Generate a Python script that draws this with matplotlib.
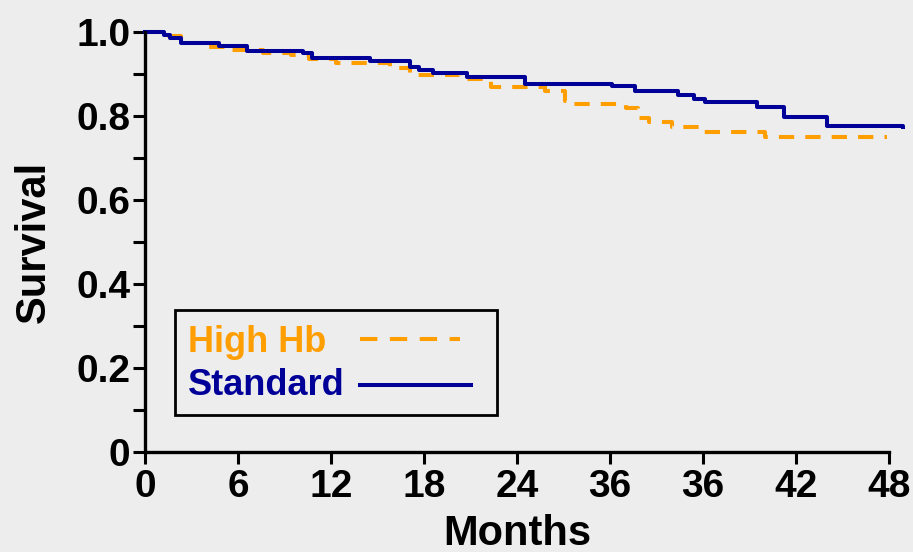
import matplotlib
matplotlib.use("Agg")
import matplotlib.pyplot as plt
from matplotlib.patches import Rectangle
from matplotlib.ticker import MultipleLocator, FixedLocator, FixedFormatter

# Kaplan-Meier steps (months, survival)
std_t = [0, 1.2, 1.6, 2.3, 4.8, 6.6, 10.2, 10.8, 14.5, 17.1, 17.7, 18.6, 20.8,
         24.5, 30.1, 31.6, 34.4, 35.4, 36.1, 39.5, 41.2, 44.0, 48.9]
std_s = [1.0, 0.993, 0.986, 0.974, 0.967, 0.955, 0.950, 0.938, 0.931, 0.917,
         0.910, 0.902, 0.893, 0.876, 0.871, 0.860, 0.850, 0.840, 0.833, 0.821,
         0.798, 0.776, 0.774]

hb_t = [0, 1.0, 2.3, 4.0, 5.5, 7.6, 9.4, 10.6, 12.3, 15.8, 17.1, 20.3, 22.3,
        25.8, 27.1, 27.7, 31.0, 31.8, 32.5, 34.0, 35.8, 40.0, 47.9]
hb_s = [1.0, 0.990, 0.975, 0.964, 0.958, 0.950, 0.945, 0.936, 0.926, 0.914,
        0.898, 0.888, 0.869, 0.860, 0.836, 0.829, 0.819, 0.795, 0.786, 0.774,
        0.762, 0.750, 0.750]

x_ticks = [0, 6, 12, 18, 24, 30, 36, 42, 48]
x_labels = ["0", "6", "12", "18", "24", "36", "36", "42", "48"]
y_ticks = [0, 0.2, 0.4, 0.6, 0.8, 1.0]
y_labels = ["0", "0.2", "0.4", "0.6", "0.8", "1.0"]

bg = "#ededed"
orange = "#ff9e00"
navy = "#000099"

plt.rcParams['font.family'] = ['Liberation Sans', 'DejaVu Sans']
plt.rcParams['font.weight'] = 'bold'
plt.rcParams['lines.scale_dashes'] = False

fig = plt.figure(figsize=(9.13, 5.52), dpi=100, facecolor=bg)
ax = fig.add_axes([145/913, 100/552, 744/913, 420/552], facecolor=bg)

# the curves
ax.step(hb_t, hb_s, where='post', color=orange, lw=2.9, dashes=(11, 8),
        clip_on=False)
ax.step(std_t, std_s, where='post', color=navy, lw=2.9, clip_on=False)

ax.set_xlim(0, 48)
ax.set_ylim(0, 1.0)

# axes look
for side in ['top', 'right']:
    ax.spines[side].set_visible(False)
for side in ['left', 'bottom']:
    ax.spines[side].set_linewidth(2.4)

ax.xaxis.set_major_locator(FixedLocator(x_ticks))
ax.xaxis.set_major_formatter(FixedFormatter(x_labels))
ax.yaxis.set_major_locator(FixedLocator(y_ticks))
ax.yaxis.set_major_formatter(FixedFormatter(y_labels))
ax.yaxis.set_minor_locator(MultipleLocator(0.1))
ax.tick_params(axis='both', which='both', direction='out', length=8.5,
               width=2.2, labelsize=28)
ax.tick_params(axis='x', pad=4)
ax.tick_params(axis='y', pad=2)

ax.set_xlabel("Months", fontsize=30, fontweight='bold', labelpad=6)
ax.set_ylabel("Survival", fontsize=30, fontweight='bold', labelpad=16)

# legend box drawn by hand: text left, sample line right
tr = ax.transAxes
ax.add_patch(Rectangle((0.040, 0.088), 0.433, 0.250, transform=tr,
                       facecolor=bg, edgecolor='black', lw=2.0,
                       clip_on=False, zorder=5))
ax.text(0.058, 0.238, "High Hb", color=orange, fontsize=26,
        fontweight='bold', va='baseline', transform=tr, zorder=6)
ax.text(0.058, 0.136, "Standard", color=navy, fontsize=26,
        fontweight='bold', va='baseline', transform=tr, zorder=6)
ax.plot([0.289, 0.423], [0.269, 0.269], color=orange, lw=2.9,
        dashes=(12.5, 9), transform=tr, zorder=6)
ax.plot([0.289, 0.438], [0.160, 0.160], color=navy, lw=2.9,
        transform=tr, zorder=6)

plt.savefig("out.png", dpi=100, facecolor=bg)
plt.close()
